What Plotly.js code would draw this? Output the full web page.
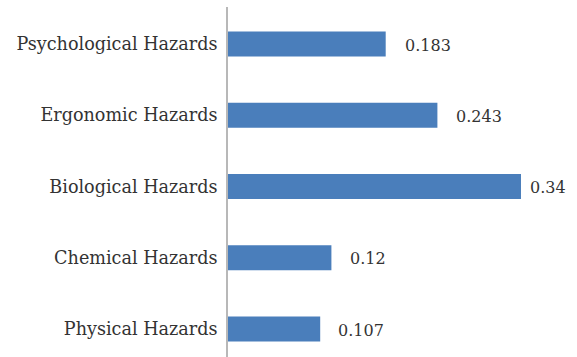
<!DOCTYPE html>
<html><head><meta charset="utf-8">
<script src="https://cdn.plot.ly/plotly-3.0.1.min.js"></script>
<style>html,body{margin:0;padding:0;background:#fff}#c{width:577px;height:357px}</style>
</head><body><div id="c"></div>
<script>
const categories = ["Physical Hazards","Chemical Hazards","Biological Hazards","Ergonomic Hazards","Psychological Hazards"];
const values = [0.107, 0.12, 0.34, 0.243, 0.183];
const valueLabels = ["0.107","0.12","0.34","0.243","0.183"];
const labelShift = [16, 17, 7, 17, 17];

const font = "'DejaVu Serif', serif";
const trace = {
  type: 'bar', orientation: 'h', x: values, y: categories,
  marker: {color: '#4a7ebb'}, width: 0.35, hoverinfo: 'none'
};
const annotations = values.map((v, i) => ({
  x: v, y: categories[i], xref: 'x', yref: 'y', text: valueLabels[i],
  showarrow: false, xanchor: 'left', xshift: labelShift[i], yshift: -1,
  font: {family: font, size: 16, color: '#333'}
}));
Plotly.newPlot('c', [trace], {
  width: 577, height: 357,
  margin: {l: 228, r: 0, t: 7, b: 0},
  paper_bgcolor: '#fff', plot_bgcolor: '#fff',
  showlegend: false,
  xaxis: {range: [0, 0.405], visible: false, fixedrange: true},
  yaxis: {type: 'category', categoryorder: 'array', categoryarray: categories,
    range: [-0.393, 4.52], showline: true, linecolor: '#b8b8b8', linewidth: 2,
    showgrid: false, zeroline: false, ticks: '', ticklabelstandoff: 5,
    tickfont: {family: font, size: 17.6, color: '#333'}},
  annotations: annotations
}, {staticPlot: true});
</script></body></html>
